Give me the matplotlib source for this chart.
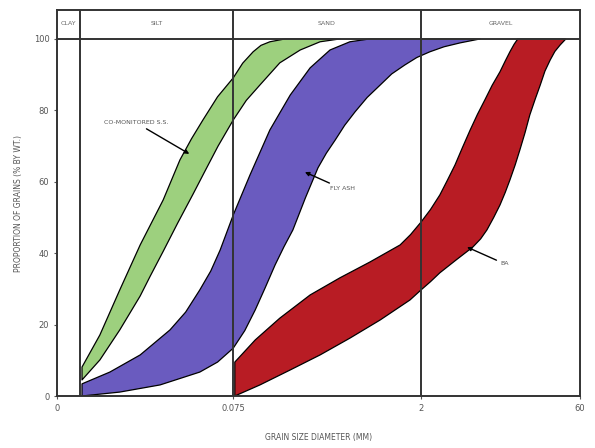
import matplotlib
matplotlib.use("Agg")
import matplotlib.pyplot as plt

plt.rcParams["font.family"] = ["DejaVu Sans"]

# x is position along the (non-linear) grain size axis, 0..100
X_TICK_POS = [0, 33.65, 69.6, 100]
X_TICK_LABELS = ["0", "0.075", "2", "60"]
CLAY_SILT_POS = 4.4
Y_TICKS = [0, 20, 40, 60, 80, 100]

ZONES = ["CLAY", "SILT", "SAND", "GRAVEL"]
ZONE_CENTERS = [2.2, 19.0, 51.6, 84.8]

# band edges (x position, % passing)
green_upper_x = [4.78, 8.2, 12.0, 15.9, 20.3, 23.5, 25.7, 27.9, 30.7, 33.7, 35.5, 37.5, 39.0, 40.7, 43.6]
green_upper_y = [8.1, 17.1, 29.7, 42.3, 54.9, 66.1, 72.0, 77.3, 83.8, 89.1, 93.2, 96.4, 98.2, 99.2, 100]
green_lower_x = [4.78, 8.2, 12.0, 15.9, 17.8, 20.3, 23.1, 26.0, 28.3, 30.8, 33.7, 36.2, 38.8, 42.6, 46.5, 50.3, 54.1]
green_lower_y = [4.5, 10.1, 18.5, 28.0, 33.5, 40.5, 48.5, 56.5, 63.0, 70.0, 77.3, 82.8, 87.1, 93.3, 96.9, 99.2, 100]

purple_upper_x = [4.78, 10.1, 15.9, 21.6, 24.6, 27.3, 29.4, 31.2, 33.7, 36.9, 40.7, 44.6, 48.4, 52.2, 56.0, 59.8]
purple_upper_y = [3.4, 6.7, 11.5, 18.5, 23.5, 29.7, 35.0, 40.9, 50.7, 61.9, 74.5, 84.3, 91.9, 96.9, 99.2, 100]
purple_lower_x = [4.78, 12.0, 19.7, 27.3, 30.7, 33.7, 35.9, 37.9, 39.8, 41.7, 43.4, 45.1, 47.5, 49.9, 51.5,
                  53.2, 55.0, 57.0, 59.3, 61.8, 64.0, 66.5, 68.8, 71.3, 74.0, 77.1, 80.9]
purple_lower_y = [0, 1.1, 3.1, 6.7, 9.5, 13.4, 18.3, 24.1, 30.3, 36.7, 41.8, 46.5, 55.5, 63.9, 68.0,
                  71.7, 75.8, 79.6, 83.6, 87.1, 90.2, 92.7, 94.8, 96.4, 97.8, 98.9, 100]

red_upper_x = [34.0, 37.9, 42.6, 48.4, 54.1, 59.8, 65.6, 67.6, 69.6, 71.4, 73.2, 74.6, 76.1, 77.5, 79.0,
               80.4, 81.8, 83.2, 84.7, 85.7, 86.6, 87.4, 88.1]
red_upper_y = [9.5, 15.7, 21.8, 28.3, 33.1, 37.5, 42.3, 45.2, 48.7, 52.2, 56.3, 60.3, 64.7, 69.5, 74.5,
               78.9, 82.9, 87.0, 90.8, 93.8, 96.4, 98.5, 100]
red_lower_x = [34.0, 38.8, 44.6, 50.3, 56.0, 61.8, 67.5, 69.6, 71.4, 73.2, 76.4, 79.5, 81.0, 82.2, 83.5,
               84.7, 85.7, 86.6, 87.6, 88.5, 89.5, 90.4, 91.4, 92.4, 93.3, 94.3, 95.2, 96.2, 97.3]
red_lower_y = [0, 3.1, 7.3, 11.5, 16.2, 21.3, 26.9, 29.7, 32.0, 34.5, 38.2, 41.7, 44.0, 46.5, 50.0,
               53.5, 57.0, 60.5, 64.7, 68.9, 73.8, 78.7, 83.0, 87.1, 91.0, 94.1, 96.5, 98.3, 100]

BANDS = [
    ("CO-MONITORED S.S.", green_upper_x, green_upper_y, green_lower_x, green_lower_y, "#9dd07e", (25.3, 67.8), (9.0, 76.5)),
    ("FLY ASH", purple_upper_x, purple_upper_y, purple_lower_x, purple_lower_y, "#6a5bbf", (47.4, 62.7), (52.2, 58.0)),
    ("BA", red_upper_x, red_upper_y, red_lower_x, red_lower_y, "#b81c24", (78.4, 41.7), (84.8, 37.0)),
]


def main():
    fig = plt.figure(figsize=(5.95, 4.48), dpi=100)
    ax = fig.add_axes([57 / 595, 52 / 448, 523 / 595, 386 / 448])

    for name, ux, uy, lx, ly, color, head, text_pos in BANDS:
        px = list(ux) + list(lx[::-1])
        py = list(uy) + list(ly[::-1])
        ax.fill(px, py, facecolor=color, edgecolor="black", linewidth=0.9,
                joinstyle="round", zorder=2)
        ax.annotate(name, xy=head, xytext=text_pos, fontsize=4.5, color="#555555",
                    ha="left", va="center",
                    arrowprops=dict(arrowstyle="-|>", color="black", lw=1.0,
                                    mutation_scale=6, shrinkA=1, shrinkB=0),
                    zorder=4)

    for pos in [CLAY_SILT_POS, X_TICK_POS[1], X_TICK_POS[2]]:
        ax.axvline(pos, color="#333333", linewidth=1.4, zorder=3)
    ax.axhline(100, color="#333333", linewidth=1.4, zorder=3)

    for zone, xc in zip(ZONES, ZONE_CENTERS):
        ax.text(xc, 104.2, zone, fontsize=4.5, color="#666666",
                ha="center", va="center")

    ax.set_xlim(0, 100)
    ax.set_ylim(0, 108.1)
    ax.set_xticks(X_TICK_POS)
    ax.set_xticklabels(X_TICK_LABELS)
    ax.set_yticks(Y_TICKS)
    ax.tick_params(labelsize=6, colors="#555555", length=2, width=0.8)
    for spine in ax.spines.values():
        spine.set_color("#333333")
        spine.set_linewidth(1.4)

    ax.set_xlabel("GRAIN SIZE DIAMETER (MM)", fontsize=5.5, color="#555555", labelpad=15)
    ax.set_ylabel("PROPORTION OF GRAINS (% BY WT.)", fontsize=5.5, color="#555555", labelpad=8)

    fig.savefig("out.png", dpi=100)
    plt.close(fig)


if __name__ == "__main__":
    main()
